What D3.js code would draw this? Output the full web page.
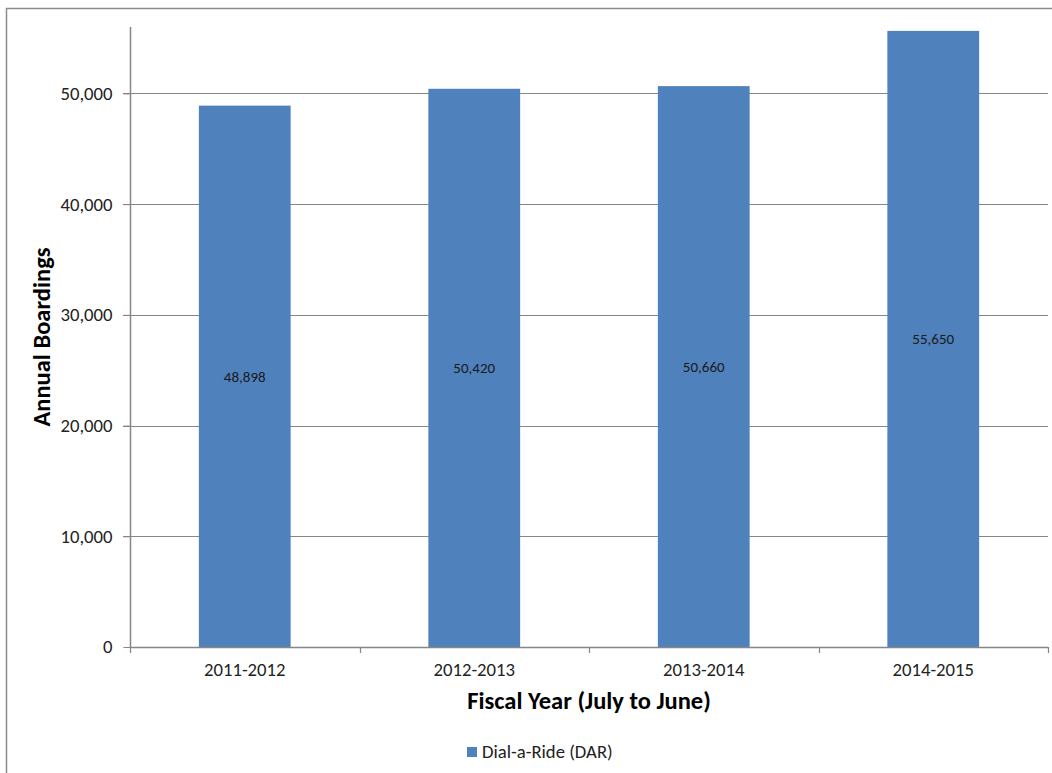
<!DOCTYPE html>
<html>
<head>
<meta charset="utf-8">
<script src="https://cdn.jsdelivr.net/npm/d3@7"></script>
<style>
  html, body { margin: 0; padding: 0; background: #fff; }
  svg { display: block; }
  text { font-family: Carlito, Calibri, "Open Sans", sans-serif; }
</style>
</head>
<body>
<svg id="chart" width="1052" height="773"></svg>
<script>
const categories = ["2011-2012", "2012-2013", "2013-2014", "2014-2015"];
const boardings = [48898, 50420, 50660, 55650];
const yTicks = [0, 10000, 20000, 30000, 40000, 50000];
const seriesName = "Dial-a-Ride (DAR)";
const yTitle = "Annual Boardings";
const xTitle = "Fiscal Year (July to June)";

const svg = d3.select("#chart");
const W = 1052, H = 773;
const plot = { left: 130, right: 1048, top: 27, bottom: 647 };
const barColor = "#4F81BD";
const lineColor = "#868686";
const FONT = 'Carlito, Calibri, "Open Sans", sans-serif';

// outer border (only top/left visible)
svg.append("rect")
  .attr("x", 6.5).attr("y", 8.5)
  .attr("width", W + 10).attr("height", H + 10)
  .attr("fill", "#fff").attr("stroke", "#8c8c8c").attr("stroke-width", 1.5);

const x = d3.scaleBand().domain(categories).range([plot.left, plot.right]).paddingInner(0).paddingOuter(0);
const y = d3.scaleLinear().domain([0, 56000]).range([plot.bottom, plot.top]);

// gridlines
svg.append("g")
  .selectAll("line")
  .data(yTicks.filter(d => d > 0))
  .join("line")
  .attr("x1", plot.left - 7).attr("x2", plot.right)
  .attr("y1", d => Math.round(y(d)) + 0.5).attr("y2", d => Math.round(y(d)) + 0.5)
  .attr("stroke", lineColor).attr("stroke-width", 1);

// bars
const barW = x.bandwidth() / 2.5;
const rows = categories.map((c, i) => ({ c, v: boardings[i] }));
svg.append("g")
  .selectAll("rect")
  .data(rows)
  .join("rect")
  .attr("x", d => x(d.c) + (x.bandwidth() - barW) / 2)
  .attr("width", barW)
  .attr("y", d => y(d.v))
  .attr("height", d => y(0) - y(d.v))
  .attr("fill", barColor);

// data labels
svg.append("g")
  .selectAll("text")
  .data(rows)
  .join("text")
  .attr("x", d => x(d.c) + x.bandwidth() / 2)
  .attr("y", d => (y(d.v) + y(0)) / 2 + 5.5)
  .attr("text-anchor", "middle")
  .attr("font-size", 15)
  .attr("fill", "#1a1a1a")
  .text(d => d3.format(",")(d.v));

// y axis
const yAxis = d3.axisLeft(y).tickValues(yTicks).tickFormat(d3.format(",")).tickSize(7).tickPadding(11);
const gy = svg.append("g").attr("transform", `translate(${plot.left + 0.5},0)`).call(yAxis);
gy.select(".domain").attr("stroke", lineColor).attr("stroke-width", 1.5).attr("d", `M0,${plot.top}V${plot.bottom}`);
gy.selectAll(".tick line").attr("stroke", lineColor);
gy.selectAll(".tick text").attr("font-size", 18.7).attr("fill", "#222").style("font-family", FONT);

// x axis
const xAxis = d3.axisBottom(x).tickSize(0).tickPadding(15);
const gx = svg.append("g").attr("transform", `translate(0,${plot.bottom + 0.5})`).call(xAxis);
gx.select(".domain").attr("stroke", lineColor).attr("stroke-width", 1.5).attr("d", `M${plot.left},0H${plot.right}`);
gx.selectAll(".tick text").attr("font-size", 18.7).attr("fill", "#222").style("font-family", FONT);
// category boundary ticks
svg.append("g")
  .selectAll("line")
  .data(d3.range(categories.length + 1))
  .join("line")
  .attr("x1", i => Math.round(plot.left + i * x.bandwidth()) + 0.5)
  .attr("x2", i => Math.round(plot.left + i * x.bandwidth()) + 0.5)
  .attr("y1", plot.bottom).attr("y2", plot.bottom + 6)
  .attr("stroke", lineColor).attr("stroke-width", 1.2);

// axis titles
svg.append("text")
  .attr("x", (plot.left + plot.right) / 2).attr("y", 709)
  .attr("text-anchor", "middle").attr("font-size", 24.5).attr("font-weight", "bold").attr("fill", "#000")
  .text(xTitle);

svg.append("text")
  .attr("transform", `translate(50,337) rotate(-90)`)
  .attr("text-anchor", "middle").attr("font-size", 24.5).attr("font-weight", "bold").attr("fill", "#000")
  .text(yTitle);

// legend
const lg = svg.append("g").attr("transform", "translate(467,747)");
lg.append("rect").attr("width", 10).attr("height", 10).attr("fill", barColor);
lg.append("text").attr("x", 15).attr("y", 10.5).attr("font-size", 18.7).attr("fill", "#222").text(seriesName);
</script>
</body>
</html>
